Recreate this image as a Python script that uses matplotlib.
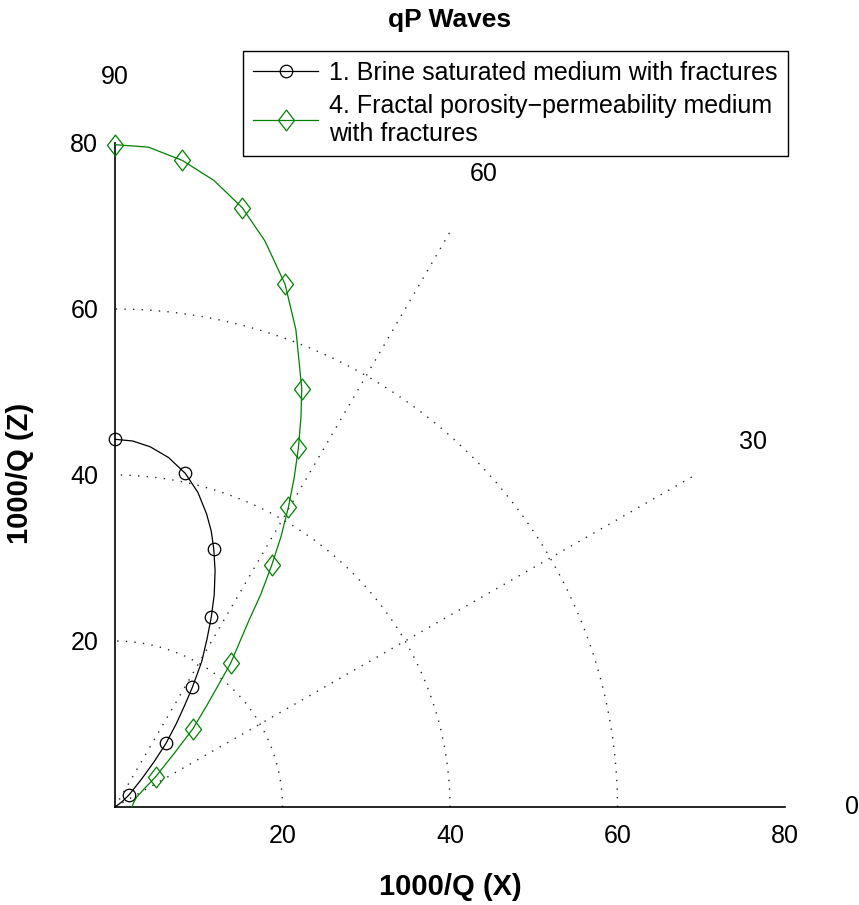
import numpy as np
import matplotlib
matplotlib.use("Agg")
import matplotlib.pyplot as plt
from matplotlib.path import Path

plt.rcParams['font.family'] = ['Liberation Sans', 'DejaVu Sans']

# ---- data (1000/Q components) ----
brine_x = [0.0, 2.1, 4.2, 6.4, 8.39, 9.9, 10.94, 11.5, 11.79, 11.95, 11.85, 11.50,
           11.0, 10.35, 9.23, 8.3, 7.3, 6.09, 4.7, 3.2, 1.67, 0.8, 0.0]
brine_z = [44.3, 44.1, 43.4, 42.1, 40.2, 37.9, 35.3, 33.2, 31.1, 28.5, 25.6, 22.9,
           20.3, 17.5, 14.4, 12.2, 10.0, 7.67, 5.5, 3.4, 1.45, 0.6, 0.0]
brine_markers = [0, 4, 8, 11, 14, 17, 20]

fractal_x = [0.0, 4.0, 8.04, 11.8, 15.2, 17.9, 20.3, 21.6, 22.3, 22.2, 21.9, 21.4,
             20.7, 19.8, 18.7, 17.4, 16.0, 13.8, 12.4, 11.0, 9.31, 7.1, 4.86, 3.5,
             2.6, 2.2, 2.03]
fractal_z = [79.8, 79.5, 77.9, 75.5, 72.2, 68.2, 63.0, 57.5, 50.4, 46.9, 43.3, 39.7,
             36.1, 32.5, 29.1, 25.6, 22.5, 17.3, 14.8, 12.3, 9.43, 6.5, 3.65, 2.2,
             1.2, 0.5, 0.0]
fractal_markers = [0, 2, 4, 6, 8, 10, 12, 14, 17, 20, 22]

labels = ["1. Brine saturated medium with fractures",
          "4. Fractal porosity\u2212permeability medium\nwith fractures"]

grid_radii = [20, 40, 60]
spoke_angles = [30, 60]
spoke_length = 80
angle_labels = [0, 30, 60, 90]
ticks = [20, 40, 60, 80]

W, H = 859, 905
fig = plt.figure(figsize=(W / 100, H / 100), dpi=100)
L, R, B, T = 115, 785, 807, 143
ax = fig.add_axes([L / W, 1 - B / H, (R - L) / W, (B - T) / H])
ax.set_xlim(0, 80)
ax.set_ylim(0, 80)

grid_style = dict(color='0.15', lw=1.0, linestyle=(0, (1, 5.2)), zorder=1)
th = np.linspace(0, np.pi / 2, 200)
for r in grid_radii:
    ax.plot(r * np.cos(th), r * np.sin(th), **grid_style)
for a in spoke_angles:
    ar = np.deg2rad(a)
    ax.plot([0, spoke_length * np.cos(ar)], [0, spoke_length * np.sin(ar)], **grid_style)
for a in angle_labels:
    ar = np.deg2rad(a)
    ax.text(88 * np.cos(ar), 88 * np.sin(ar), str(a), ha='center', va='center',
            fontsize=18, clip_on=False)

diamond = Path([(0, 1), (0.77, 0), (0, -1), (-0.77, 0), (0, 1)],
               [Path.MOVETO, Path.LINETO, Path.LINETO, Path.LINETO, Path.CLOSEPOLY])

ax.plot(brine_x, brine_z, color='black', lw=0.9, marker='o', markersize=9,
        markerfacecolor='none', markeredgewidth=0.9, markevery=brine_markers,
        label=labels[0], zorder=3, clip_on=False)
ax.plot(fractal_x, fractal_z, color='#008000', lw=0.9, marker=diamond, markersize=15,
        markerfacecolor='none', markeredgewidth=0.9, markevery=fractal_markers,
        label=labels[1], zorder=3, clip_on=False)

for s in ['top', 'right']:
    ax.spines[s].set_visible(False)
for s in ['left', 'bottom']:
    ax.spines[s].set_linewidth(1.2)
ax.set_xticks(ticks)
ax.set_yticks(ticks)
ax.tick_params(length=0, labelsize=18)
ax.tick_params(axis='x', pad=12)
ax.tick_params(axis='y', pad=12)

ax.set_xlabel('1000/Q (X)', fontsize=21, fontweight='bold', va='center')
ax.xaxis.set_label_coords(0.5, -(887 - B) / (B - T))
ax.set_ylabel('1000/Q (Z)', fontsize=21, fontweight='bold', va='center')
ax.yaxis.set_label_coords(-(L - 20) / (R - L), (B - 473) / (B - T))
ax.set_title('qP Waves', fontsize=19, fontweight='bold', va='center',
             y=1 + (T - 20) / (B - T), pad=0)

leg = ax.legend(loc='upper left', bbox_to_anchor=(243 / W, 1 - 51 / H),
                bbox_transform=fig.transFigure, borderaxespad=0, fontsize=18,
                frameon=True, fancybox=False, framealpha=1, edgecolor='black',
                handlelength=2.6, handletextpad=0.45, borderpad=0.4, labelspacing=0.35)
leg.get_frame().set_linewidth(1.0)

fig.savefig('out.png', dpi=100)
